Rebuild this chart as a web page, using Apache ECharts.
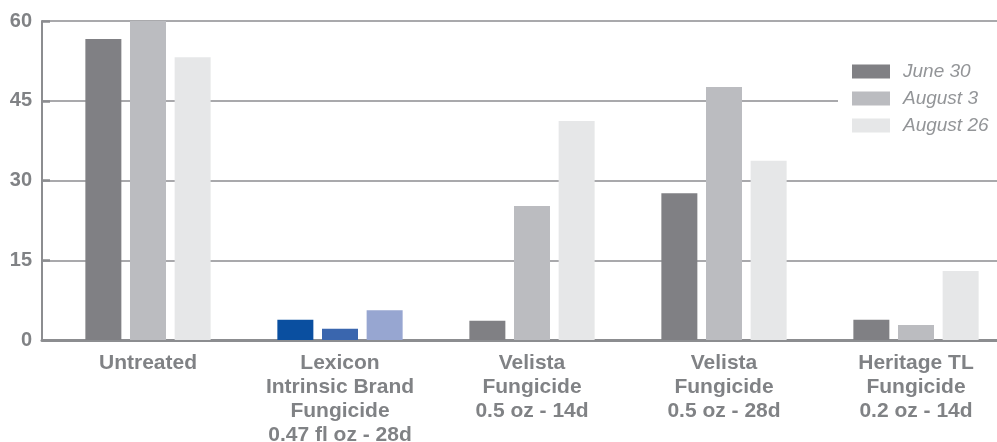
<!DOCTYPE html>
<html>
<head>
<meta charset="utf-8">
<script src="https://cdn.jsdelivr.net/npm/echarts@6/dist/echarts.min.js"></script>
<style>html,body{margin:0;padding:0;background:#fff}#c{width:997px;height:442px}</style>
</head>
<body>
<div id="c"></div>
<script>
const categories = ['Untreated', 'Lexicon\nIntrinsic Brand\nFungicide\n0.47 fl oz - 28d', 'Velista\nFungicide\n0.5 oz - 14d', 'Velista\nFungicide\n0.5 oz - 28d', 'Heritage TL\nFungicide\n0.2 oz - 14d'];
const seriesNames = ['June 30', 'August 3', 'August 26'];
const june30 = [56.6, 3.8, 3.6, 27.6, 3.8];
const august3 = [60, 2.1, 25.2, 47.6, 2.8];
const august26 = [53.2, 5.6, 41.2, 33.7, 13.0];
const yTicks = [0, 15, 30, 45, 60];

const greyColors = ['#808084', '#bbbcc0', '#e6e7e8'];
const lexiconColors = ['#0a4fa0', '#3a66ae', '#97a6d1'];
const lexiconIndex = 1;
const FONT = 'Liberation Sans';
const TXT = '#808285';

function makeData(vals, s) {
  return vals.map((v, i) => i === lexiconIndex ? { value: v, itemStyle: { color: lexiconColors[s] } } : v);
}

const chart = echarts.init(document.getElementById('c'), null, { renderer: 'canvas' });
chart.setOption({
  animation: false,
  backgroundColor: '#fff',
  grid: [
    { left: 52, width: 960, top: 21, bottom: 102, outerBoundsMode: 'none', containLabel: false },
    { left: 42, right: 0, top: 21, bottom: 102, outerBoundsMode: 'none', containLabel: false }
  ],
  legend: {
    data: seriesNames,
    orient: 'vertical',
    left: 838, top: 54,
    padding: [8, 40, 8, 14],
    backgroundColor: '#fff',
    itemWidth: 38, itemHeight: 14, itemGap: 8,
    icon: 'rect',
    textStyle: { fontFamily: FONT, fontStyle: 'italic', fontSize: 19, color: '#939598', lineHeight: 14, padding: [0, 0, 0, 8] }
  },
  xAxis: [
    {
      gridIndex: 0, type: 'category', data: categories,
      axisLine: { show: false }, axisTick: { show: false },
      axisLabel: { interval: 0, margin: 11, fontFamily: FONT, fontWeight: 'bold', fontSize: 21, color: TXT, lineHeight: 24 }
    },
    {
      gridIndex: 1, type: 'value', min: 0, max: 1,
      axisLine: { show: true, lineStyle: { color: '#8c8d90', width: 3 } },
      axisTick: { show: false }, axisLabel: { show: false }, splitLine: { show: false }
    }
  ],
  yAxis: [
    { gridIndex: 0, type: 'value', min: 0, max: 60, show: false },
    {
      gridIndex: 1, type: 'value', min: 0, max: 60, interval: 15,
      axisLine: { show: true, lineStyle: { color: '#8c8d90', width: 2 } },
      axisTick: { show: true, inside: true, length: 8, lineStyle: { color: '#8c8d90', width: 2.5 } },
      axisLabel: { margin: 10, fontFamily: FONT, fontWeight: 'bold', fontSize: 20, color: TXT,
        customValues: yTicks },
      splitLine: { show: true, lineStyle: { color: '#8c8d90', width: 1.5 } }
    }
  ],
  series: [june30, august3, august26].map((vals, s) => ({
    name: seriesNames[s], type: 'bar', xAxisIndex: 0, yAxisIndex: 0,
    barWidth: 36, barGap: '24%',
    itemStyle: { color: greyColors[s] },
    data: makeData(vals, s)
  }))
});
</script>
</body>
</html>
